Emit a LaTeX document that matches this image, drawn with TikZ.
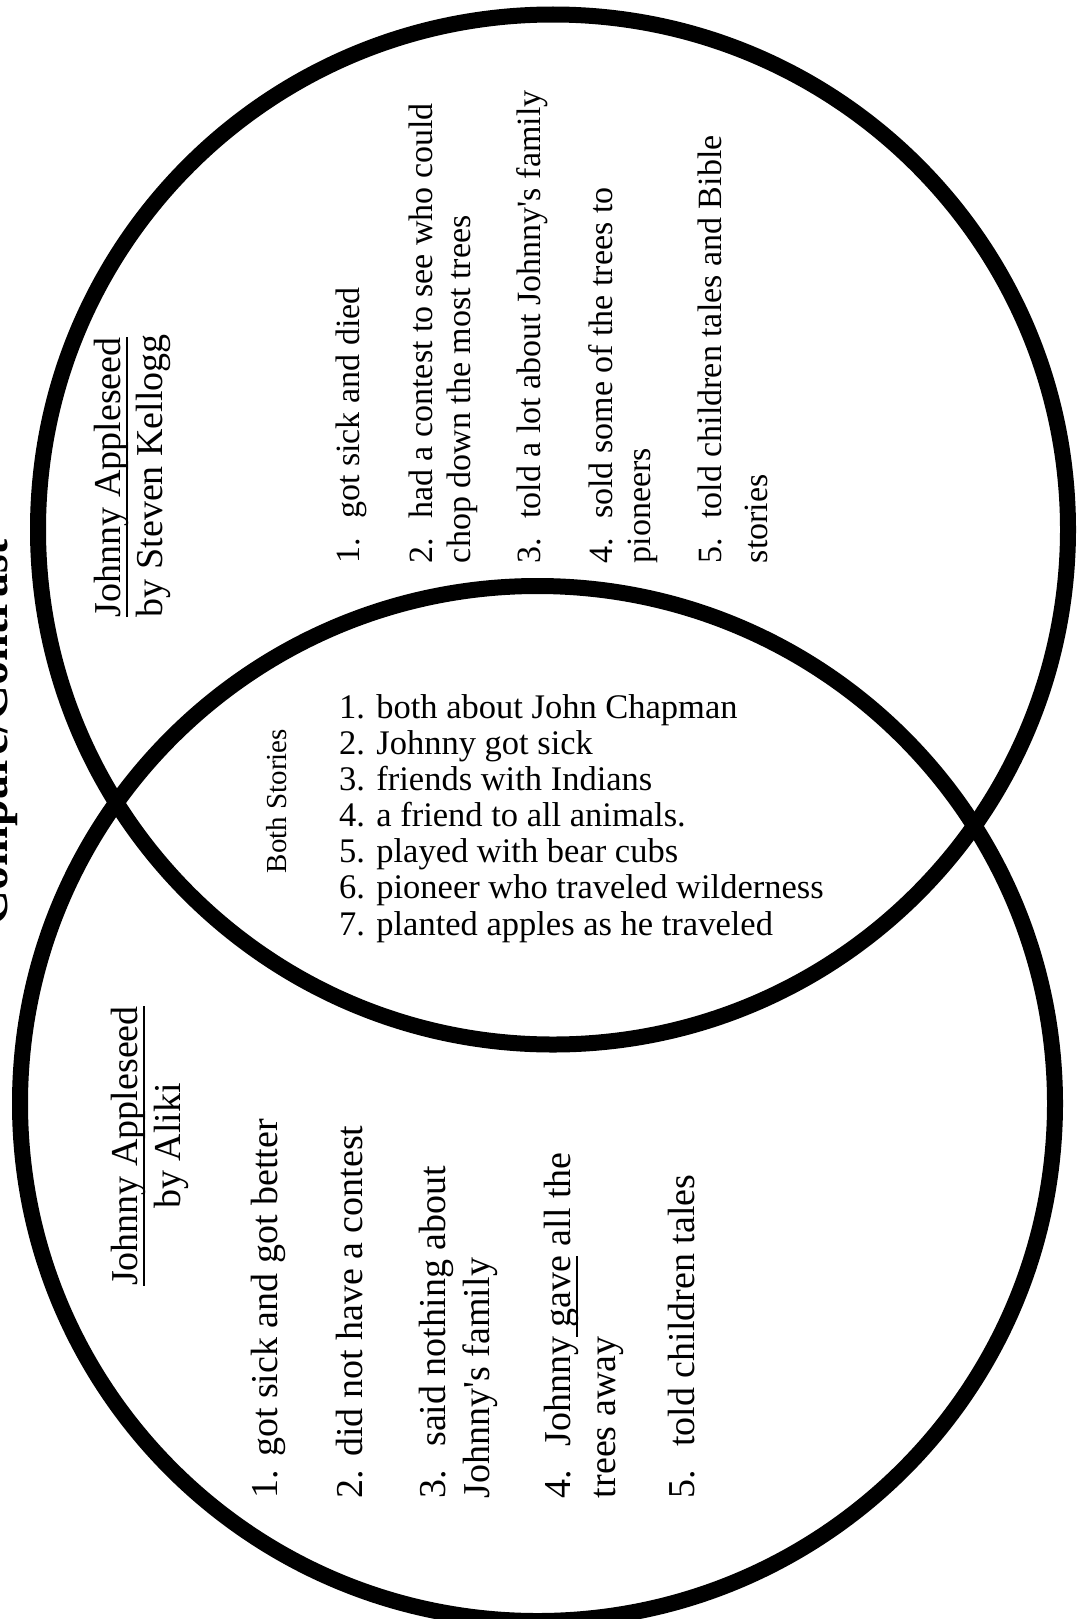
\documentclass[tikz,border=0pt]{standalone}
\usepackage{fontspec}
\setmainfont{Liberation Serif}
% underline set just under the descenders, as a word processor does
\newcommand{\ulword}[1]{\setbox0\hbox{#1}\rlap{\rule[-0.21em]{\wd0}{0.055em}}\box0\relax}
\begin{document}
\begin{tikzpicture}[x=1pt,y=-1pt,
  ring/.style={draw=black,line width=16pt},
  vtext/.style={inner sep=0pt,outer sep=0pt,rotate=90,anchor=base west},
  heading/.style={vtext,font=\fontsize{38}{44}\selectfont},
  headingc/.style={heading,anchor=base},
  kitem/.style={vtext,font=\fontsize{34}{39}\selectfont},
  aitem/.style={vtext,font=\fontsize{38}{44}\selectfont},
  both/.style={inner sep=0pt,outer sep=0pt,anchor=base west,font=\fontsize{34.5}{36}\selectfont},
  bothhead/.style={inner sep=0pt,rotate=90,anchor=center,font=\fontsize{29}{33}\selectfont},
  pagetitle/.style={vtext,font=\fontsize{48}{54}\selectfont\bfseries}]
\useasboundingbox (0,0) rectangle (1076,1619);
\fill[white] (0,0) rectangle (1076,1619);
\clip (0,0) rectangle (1076,1619);

% page heading, running off the left edge
\node[pagetitle] (title) at (7,925) {Compare/Contrast};

% the two overlapping circles
\draw[ring] (553,529.5) circle[radius=515];
\draw[ring] (537.5,1103.5) circle[radius=517.5];

% Kellogg circle (top)
\node[heading] (kt1) at (120,617) {\ulword{Johnny Appleseed}};
\node[heading] (kt2) at (162,617) {by Steven Kellogg};
\node[kitem] (k1)  at (359,563) {1.\hspace{.55em}got sick and died};
\node[kitem] (k2a) at (432,563) {2.\hspace{.55em}had a contest to see who could};
\node[kitem] (k2b) at (470,563) {chop down the most trees};
\node[kitem] (k3)  at (540,563) {3.\hspace{.55em}told a lot about Johnny\textquotesingle s family};
\node[kitem] (k4a) at (612,563) {4.\hspace{.55em}sold some of the trees to};
\node[kitem] (k4b) at (650,563) {pioneers};
\node[kitem] (k5a) at (721,563) {5.\hspace{.55em}told children tales and Bible};
\node[kitem] (k5b) at (767,563) {stories};

% shared middle
\node[bothhead] (bh) at (277,801) {Both Stories};
\node[both] (b1) at (339,718) {1. both about John Chapman};
\node[both] (b2) at (339,754) {2. Johnny got sick};
\node[both] (b3) at (339,790) {3. friends with Indians};
\node[both] (b4) at (339,826) {4. a friend to all animals.};
\node[both] (b5) at (339,862) {5. played with bear cubs};
\node[both] (b6) at (339,898) {6. pioneer who traveled wilderness};
\node[both] (b7) at (339,935) {7. planted apples as he traveled};

% Aliki circle (bottom)
\node[headingc] (at1) at (137,1146) {\ulword{Johnny Appleseed}};
\node[headingc] (at2) at (180,1146) {by Aliki};
\node[aitem] (a1)  at (277,1498) {1. got sick and got better};
\node[aitem] (a2)  at (362,1498) {2. did not have a contest};
\node[aitem] (a3a) at (445,1498) {3.\hspace{.6em}said nothing about};
\node[aitem] (a3b) at (489,1498) {Johnny\textquotesingle s family};
\node[aitem] (a4a) at (570,1498) {4.\hspace{.6em}Johnny\ulword{ gave} all the};
\node[aitem] (a4b) at (615,1498) {trees away};
\node[aitem] (a5)  at (694,1498) {5.\hspace{.6em}told children tales};
\end{tikzpicture}
\end{document}
